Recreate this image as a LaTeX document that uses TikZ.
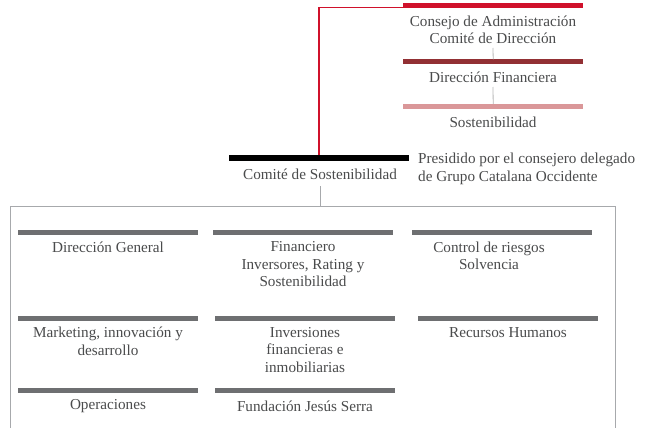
\documentclass[tikz,border=0pt]{standalone}
\usepackage{fontspec}
\setmainfont{Liberation Serif}
\definecolor{topred}{HTML}{D0112B}
\definecolor{linered}{HTML}{D0112B}
\definecolor{darkred}{HTML}{923034}
\definecolor{pinkbar}{HTML}{DA9799}
\definecolor{graybar}{HTML}{6E6F71}
\definecolor{txtgray}{HTML}{4A4B4C}
\definecolor{boxgray}{HTML}{A7A9AC}
\definecolor{linkgray}{HTML}{B8B8B8}
\begin{document}
\begin{tikzpicture}[x=1pt,y=-1pt,
  bar/.style={fill=#1, draw=none, minimum width=180pt, minimum height=5pt, inner sep=0pt, anchor=west},
  lbl/.style={text=txtgray, font=\fontsize{15.2}{17.5}\selectfont, align=center, inner sep=0pt},
  link/.style={draw=linkgray, line width=0.8pt}]
\useasboundingbox (0,0) rectangle (645,428);
\fill[white] (0,0) rectangle (645,428);
% top column
\node[bar=topred] (b1) at (403,5.5) {};
\node[lbl] (t1) at (493,30) {Consejo de Administración\\Comité de Dirección};
\node[bar=darkred] (b2) at (403,62) {};
\node[lbl] (t2) at (493,77) {Dirección Financiera};
\node[bar=pinkbar] (b3) at (403,106.5) {};
\node[lbl] (t3) at (493,122) {Sostenibilidad};
\draw[link] (493,48) -- (b2.north);
\draw[link] (493,87) -- (b3.north);
% committee
\node[fill=black, minimum width=180pt, minimum height=6pt, inner sep=0pt] (bk) at (319,158) {};
\node[lbl] (tk) at (320,174) {Comité de Sostenibilidad};
\node[lbl, align=left, anchor=west] (pres) at (418,169) {Presidido por el consejero delegado\\de Grupo Catalana Occidente};
\coordinate (redstart) at (404,7.5);
\draw[linered, line width=1.2pt] (redstart) -| (bk.north);
% box
\coordinate (boxtop) at (320,206);
\draw[draw=boxgray, line width=0.9pt] (10,440) -- (10,206) -- (615,206) -- (615,440);
\draw[draw=boxgray, line width=0.8pt] (320,186) -- (boxtop);
% row 1
\node[bar=graybar] (g11) at (18,232) {};
\node[bar=graybar] (g12) at (213,232) {};
\node[bar=graybar] (g13) at (412,232) {};
\node[lbl] at (108,247) {Dirección General};
\node[lbl] at (303,264.5) {Financiero\\Inversores, Rating y\\Sostenibilidad};
\node[lbl] at (489,256) {Control de riesgos\\Solvencia};
% row 2
\node[bar=graybar] (g21) at (18,318) {};
\node[bar=graybar] (g22) at (215,318) {};
\node[bar=graybar] (g23) at (418,318) {};
\node[lbl] at (108,341.5) {Marketing, innovación y\\desarrollo};
\node[lbl] at (305,350) {Inversiones\\financieras e\\inmobiliarias};
\node[lbl] at (508,333) {Recursos Humanos};
% row 3
\node[bar=graybar] (g31) at (18,390) {};
\node[bar=graybar] (g32) at (215,390) {};
\node[lbl] at (108,406) {Operaciones};
\node[lbl] at (305,406) {Fundación Jesús Serra};
\end{tikzpicture}
\end{document}
